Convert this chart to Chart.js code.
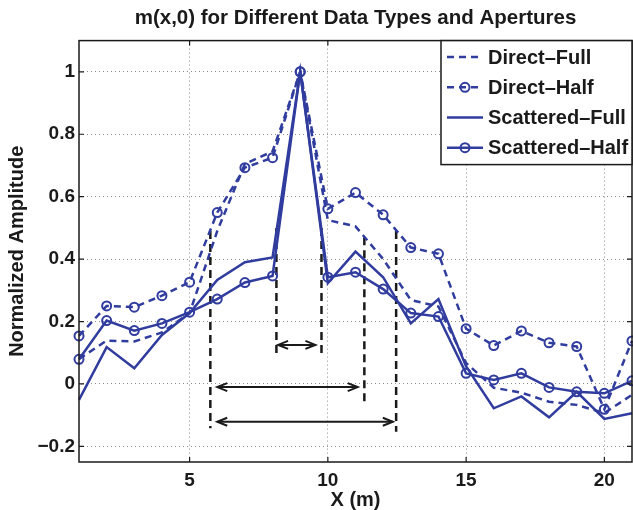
<!DOCTYPE html>
<html>
<head>
<meta charset="utf-8">
<script src="https://cdn.jsdelivr.net/npm/chart.js@4.4.1/dist/chart.umd.min.js"></script>
<style>
  body { margin: 0; background: #fff; }
</style>
</head>
<body>
<canvas id="myChart" width="633" height="510"></canvas>
<script>
// sample positions (m)
var xValues = [1, 2, 3, 4, 5, 6, 7, 8, 9, 10, 11, 12, 13, 14, 15, 16, 17, 18, 19, 20, 21];

var directFull    = [0.08, 0.139, 0.136, 0.165, 0.227, 0.49, 0.705, 0.745, 1.0, 0.525, 0.505, 0.40, 0.269, 0.248, 0.067, -0.012, -0.028, -0.057, -0.067, -0.093, -0.035];
var directHalf    = [0.154, 0.25, 0.246, 0.283, 0.326, 0.549, 0.693, 0.725, 1.0, 0.561, 0.613, 0.542, 0.437, 0.417, 0.177, 0.123, 0.17, 0.132, 0.12, -0.081, 0.138];
var scatteredFull = [-0.051, 0.118, 0.05, 0.157, 0.227, 0.333, 0.39, 0.405, 1.0, 0.323, 0.424, 0.342, 0.194, 0.272, 0.056, -0.078, -0.04, -0.107, -0.025, -0.112, -0.094];
var scatteredHalf = [0.079, 0.203, 0.171, 0.194, 0.23, 0.272, 0.325, 0.346, 1.0, 0.342, 0.358, 0.304, 0.227, 0.216, 0.034, 0.013, 0.034, -0.011, -0.025, -0.03, 0.01];

var seriesNames = ["Direct\u2013Full", "Direct\u2013Half", "Scattered\u2013Full", "Scattered\u2013Half"];

var xTicks = [5, 10, 15, 20];
var yTicks = [-0.2, 0, 0.2, 0.4, 0.6, 0.8, 1];

// aperture width markers (black dashed verticals)
var apertureX      = [5.75, 8.14, 9.77, 11.32, 12.47];
var apertureTop    = [0.49, 0.50, 0.50, 0.47, 0.49];
var apertureBottom = [-0.142, 0.088, 0.088, -0.057, -0.153];

// double arrows between the markers
var arrowFrom = [8.2, 6.0, 6.0];
var arrowTo   = [9.55, 11.08, 12.35];
var arrowY    = [0.125, -0.01, -0.121];

var blue = '#303c9e';
var ink = '#1a1a1a';

Chart.defaults.font.family = "'Liberation Sans', Arial, sans-serif";
Chart.defaults.font.weight = 'bold';
Chart.defaults.color = ink;

function pts(ys) {
  return xValues.map(function (x, i) { return { x: x, y: ys[i] }; });
}

var datasets = [
  { label: seriesNames[0], data: pts(directFull), borderDash: [7, 5], pointRadius: 0 },
  { label: seriesNames[1], data: pts(directHalf), borderDash: [7, 5], pointRadius: 4.5 },
  { label: seriesNames[2], data: pts(scatteredFull), pointRadius: 0 },
  { label: seriesNames[3], data: pts(scatteredHalf), pointRadius: 4.5 }
].map(function (d) {
  d.borderColor = blue;
  d.borderWidth = 2.5;
  d.pointBorderColor = blue;
  d.pointBorderWidth = 2;
  d.pointBackgroundColor = 'rgba(0,0,0,0)';
  d.tension = 0;
  d.clip = false;
  d.order = 0;
  return d;
});

apertureX.forEach(function (x, i) {
  datasets.push({
    label: 'aperture' + i,
    data: [{ x: x, y: apertureTop[i] }, { x: x, y: apertureBottom[i] }],
    borderColor: ink, borderWidth: 2.5, borderDash: [8, 5],
    pointRadius: 0, order: 1, clip: false, helper: true
  });
});

arrowFrom.forEach(function (x0, i) {
  datasets.push({
    label: 'arrow' + i,
    data: [{ x: x0, y: arrowY[i] }, { x: arrowTo[i], y: arrowY[i] }],
    borderColor: ink, borderWidth: 2,
    pointRadius: 0, order: 1, clip: false, helper: true, arrow: true
  });
});

function fmt(v) {
  return v < 0 ? '\u2212' + Math.abs(v) : String(v);
}

var framePlugin = {
  id: 'frame',
  afterDatasetsDraw: function (chart) {
    var ctx = chart.ctx;
    // arrow heads
    chart.data.datasets.forEach(function (ds, i) {
      if (!ds.arrow) return;
      var m = chart.getDatasetMeta(i).data;
      var a = m[0], b = m[1];
      ctx.save();
      ctx.strokeStyle = ink;
      ctx.lineWidth = 2;
      [[a, 1], [b, -1]].forEach(function (p) {
        var px = p[0].x, py = p[0].y, dir = p[1];
        ctx.beginPath();
        ctx.moveTo(px + dir * 10, py - 4);
        ctx.lineTo(px, py);
        ctx.lineTo(px + dir * 10, py + 4);
        ctx.stroke();
      });
      ctx.restore();
    });
  },
  afterDraw: function (chart) {
    var ctx = chart.ctx;
    var a = chart.chartArea;
    var xs = chart.scales.x, ys = chart.scales.y;
    ctx.save();
    ctx.strokeStyle = ink;
    ctx.lineWidth = 1.5;
    ctx.setLineDash([]);
    ctx.strokeRect(a.left, a.top, a.right - a.left, a.bottom - a.top);
    // inward ticks
    ctx.lineWidth = 1.2;
    ctx.beginPath();
    xTicks.forEach(function (t) {
      var px = xs.getPixelForValue(t);
      ctx.moveTo(px, a.bottom); ctx.lineTo(px, a.bottom - 5);
      ctx.moveTo(px, a.top); ctx.lineTo(px, a.top + 5);
    });
    yTicks.forEach(function (t) {
      var py = ys.getPixelForValue(t);
      ctx.moveTo(a.left, py); ctx.lineTo(a.left + 5, py);
      ctx.moveTo(a.right, py); ctx.lineTo(a.right - 5, py);
    });
    ctx.stroke();

    // legend box, top right inside the axes
    var w = 191, h = 124, rowH = 30.2;
    var lx = a.right - w, ly = a.top;
    ctx.fillStyle = '#fff';
    ctx.fillRect(lx, ly, w, h);
    ctx.lineWidth = 1.5;
    ctx.strokeRect(lx, ly, w, h);
    ctx.font = "bold 20px 'Liberation Sans', Arial, sans-serif";
    ctx.textBaseline = 'middle';
    for (var i = 0; i < 4; i++) {
      var ds = chart.data.datasets[i];
      var cy = ly + 16.5 + i * rowH;
      ctx.strokeStyle = ds.borderColor;
      ctx.lineWidth = ds.borderWidth;
      ctx.setLineDash(ds.borderDash || []);
      ctx.beginPath();
      ctx.moveTo(lx + 6, cy);
      ctx.lineTo(lx + 42, cy);
      ctx.stroke();
      ctx.setLineDash([]);
      if (ds.pointRadius > 0) {
        ctx.lineWidth = ds.pointBorderWidth;
        ctx.beginPath();
        ctx.arc(lx + 24, cy, ds.pointRadius, 0, Math.PI * 2);
        ctx.stroke();
      }
      ctx.fillStyle = ink;
      ctx.fillText(ds.label, lx + 47, cy + 1);
    }
    ctx.restore();
  }
};

var chart = new Chart('myChart', {
  type: 'line',
  data: { datasets: datasets },
  options: {
    responsive: false,
    animation: false,
    layout: { autoPadding: false, padding: { left: 0, right: 1, top: 0, bottom: 0 } },
    plugins: {
      legend: { display: false },
      tooltip: { enabled: false },
      title: {
        display: true,
        text: 'm(x,0) for Different Data Types and Apertures',
        font: { size: 20.5, weight: 'bold' },
        color: ink,
        padding: { top: 6, bottom: 10 },
        fullSize: false
      }
    },
    scales: {
      x: {
        type: 'linear',
        min: 1, max: 21,
        afterFit: function (s) { s.height = 48; s.paddingLeft = 0; s.paddingRight = 0; },
        afterBuildTicks: function (s) { s.ticks = xTicks.map(function (v) { return { value: v }; }); },
        ticks: { font: { size: 19, weight: 'bold' }, color: ink, padding: 7.4, maxRotation: 0, autoSkip: false, callback: fmt },
        grid: { color: '#8c8c8c', lineWidth: 1, drawTicks: false },
        border: { display: false, dash: [1, 3] },
        title: { display: true, text: 'X (m)', font: { size: 20, weight: 'bold', lineHeight: 1 }, color: ink, padding: { top: 0, bottom: 0 } }
      },
      y: {
        type: 'linear',
        min: -0.25, max: 1.1,
        afterFit: function (s) { s.width = 79; s.paddingTop = 0; s.paddingBottom = 0; },
        afterBuildTicks: function (s) { s.ticks = yTicks.map(function (v) { return { value: v }; }); },
        ticks: { font: { size: 19, weight: 'bold' }, color: ink, padding: 4, autoSkip: false, callback: fmt },
        grid: { color: '#8c8c8c', lineWidth: 1, drawTicks: false },
        border: { display: false, dash: [1, 3] },
        title: { display: true, text: 'Normalized Amplitude', font: { size: 20, weight: 'bold' }, color: ink, padding: { top: 5.5, bottom: 0 } }
      }
    }
  },
  plugins: [framePlugin]
});
</script>
</body>
</html>
